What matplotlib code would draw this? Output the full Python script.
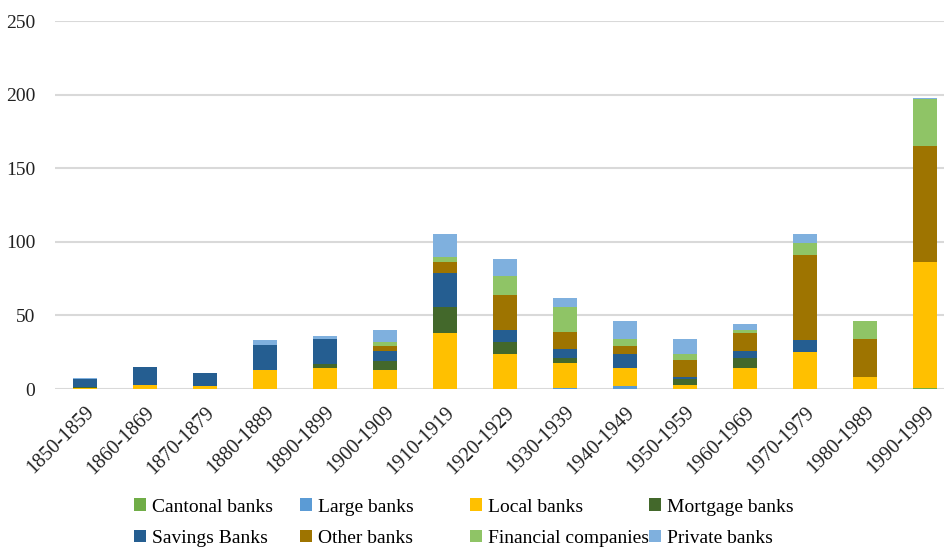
import matplotlib
matplotlib.use("Agg")
import matplotlib.pyplot as plt
import numpy as np

plt.rcParams["font.family"] = ["Liberation Serif", "DejaVu Serif"]

decades = ["1850-1859", "1860-1869", "1870-1879", "1880-1889", "1890-1899",
           "1900-1909", "1910-1919", "1920-1929", "1930-1939", "1940-1949",
           "1950-1959", "1960-1969", "1970-1979", "1980-1989", "1990-1999"]

# foundings per decade, by bank group (stacked bottom to top)
cantonal  = [0, 0, 0, 0, 0, 0, 0, 0, 0, 0, 0, 0, 0, 0, 1]
large     = [0, 0, 0, 0, 0, 0, 0, 0, 1, 2, 0, 0, 0, 0, 0]
local     = [0.5, 3, 2, 13, 14, 13, 38, 24, 17, 12, 3, 14, 25, 8, 85]
mortgage  = [1, 0, 0, 0, 3, 6, 18, 8, 3, 0, 4, 7, 0, 0, 0]
savings   = [5, 12, 9, 17, 17, 7, 23, 8, 6, 10, 1, 5, 8, 0, 0]
other     = [0, 0, 0, 0, 0, 3, 7, 24, 12, 5, 12, 12, 58, 26, 79]
financial = [0, 0, 0, 0, 0, 3, 4, 13, 17, 5, 4, 2, 8, 12, 32]
private   = [1, 0, 0, 3, 2, 8, 15, 11, 6, 12, 10, 4, 6, 0, 1]

series = [
    ("Cantonal banks", cantonal, "#70AD47"),
    ("Large banks", large, "#5B9BD5"),
    ("Local banks", local, "#FFC000"),
    ("Mortgage banks", mortgage, "#43682B"),
    ("Savings Banks", savings, "#255E91"),
    ("Other banks", other, "#9E7400"),
    ("Financial companies", financial, "#8FC466"),
    ("Private banks", private, "#7FB0DE"),
]

fig = plt.figure(figsize=(9.44, 5.49), dpi=100)
ax = fig.add_axes([0.058, 0.2914, 0.942, 0.6703])

x = np.arange(len(decades))
bottom = np.zeros(len(decades))
handles = []
for name, vals, color in series:
    b = ax.bar(x, vals, width=0.4, bottom=bottom, color=color, label=name, zorder=3)
    handles.append(b)
    bottom += np.array(vals, dtype=float)

ax.set_ylim(0, 250)
ax.set_xlim(-0.5, 14.32)
ax.set_yticks(np.arange(0, 251, 50))
ax.yaxis.grid(True, color="#D9D9D9", linewidth=1.5, zorder=0)
ax.set_axisbelow(True)
for s in ax.spines.values():
    s.set_visible(False)
ax.tick_params(axis="both", length=0, labelsize=14, colors="#222222")
ax.tick_params(axis="y", pad=14)
ax.set_xticks(x)
ax.set_xticklabels(decades, rotation=45, ha="right", rotation_mode="anchor",
                   fontsize=14.5)
ax.tick_params(axis="x", pad=10)

# legend laid out as four columns of two rows
cols_x = [0.142, 0.318, 0.498, 0.688]
for i, cx in enumerate(cols_x):
    hs = [handles[i], handles[i + 4]]
    fig.legend(hs, [h.get_label() for h in hs], loc="upper left",
               bbox_to_anchor=(cx, 0.092), frameon=False, fontsize=14,
               handlelength=0.6, handleheight=0.6, handletextpad=0.3,
               labelspacing=0.75, borderpad=0, borderaxespad=0)

fig.savefig("out.png", dpi=100)
